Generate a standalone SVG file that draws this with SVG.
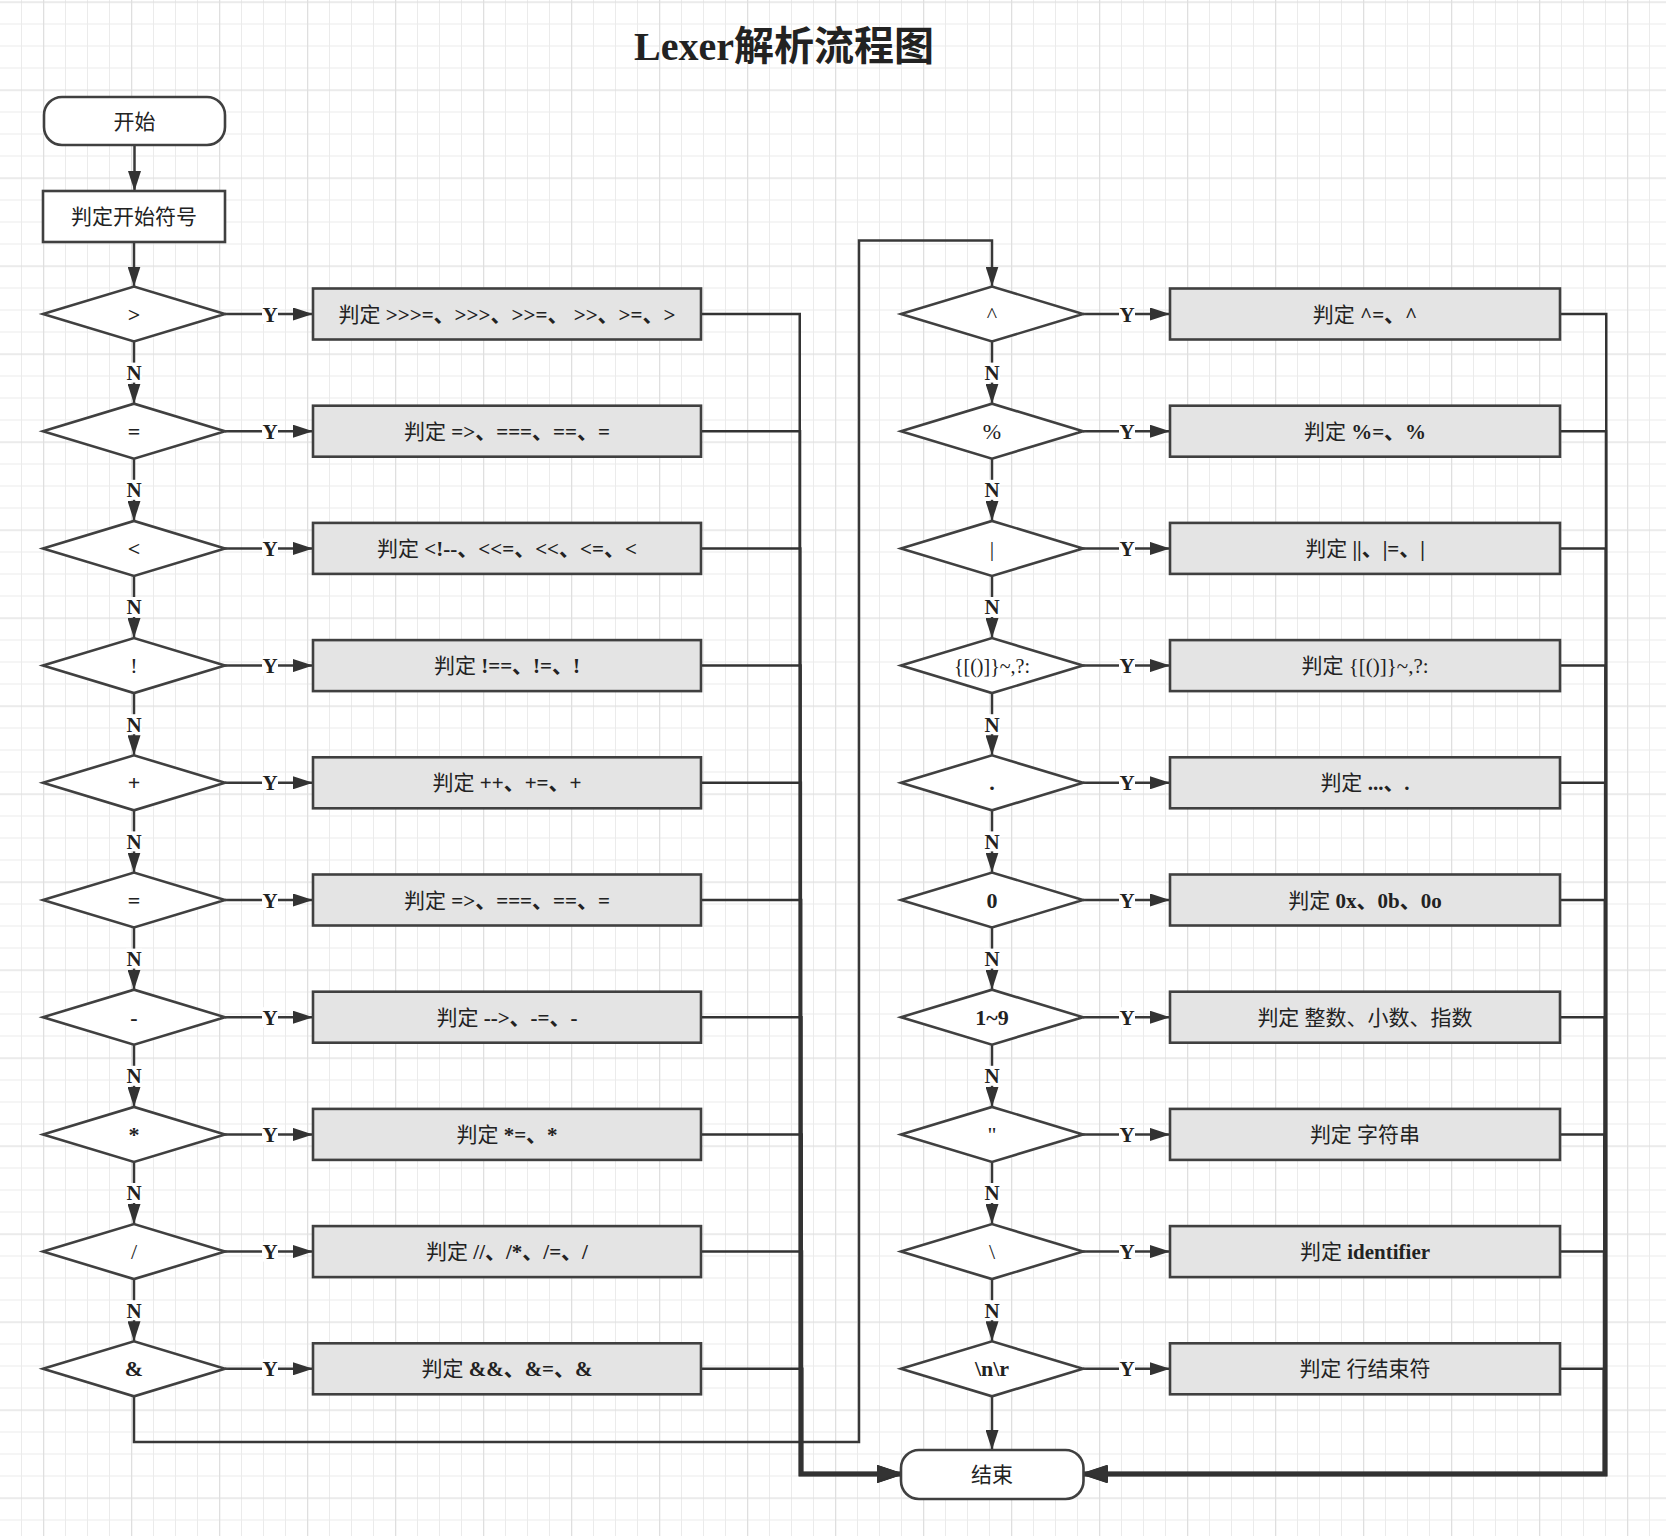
<svg xmlns="http://www.w3.org/2000/svg" width="1666" height="1536" viewBox="0 0 1666 1536">
<defs>
<pattern id="grid" x="43" y="1.5" width="88" height="88" patternUnits="userSpaceOnUse">
<path d="M22.5 0V88M44.5 0V88M66.5 0V88M0 22.5H88M0 44.5H88M0 66.5H88" stroke="#ebebeb" stroke-width="1" fill="none"/>
<path d="M0.5 0V88M0 0.5H88" stroke="#dfdfdf" stroke-width="1.6" fill="none"/>
</pattern>
<marker id="ah" viewBox="0 0 20 13" refX="20" refY="6.5" markerWidth="20" markerHeight="13" markerUnits="userSpaceOnUse" orient="auto"><path d="M0,0 L20,6.5 L0,13 z" fill="#333"/></marker>
<marker id="ahL" viewBox="0 0 24 16" refX="24" refY="8" markerWidth="24" markerHeight="16" markerUnits="userSpaceOnUse" orient="auto"><path d="M0,0 L24,8 L0,16 z" fill="#333"/></marker>
<style>
text{font-family:"Liberation Serif","Noto Sans CJK SC",serif;fill:#222}
.t{font-size:21px;text-anchor:middle}
.b{font-weight:bold}
.shape{stroke:#404040;stroke-width:2.6}
.proc{fill:#e4e4e4}
.white{fill:#fff}
.conn{fill:none;stroke:#383838;stroke-width:2.5;marker-end:url(#ah)}
.bus{fill:none;stroke:#333;stroke-width:2.5;marker-end:url(#ahL)}
.lb rect{fill:#fff}
.lb text{font-size:21px;font-weight:bold;text-anchor:middle}
.dl{font-size:22px;text-anchor:middle}
</style>
</defs>
<rect width="1666" height="1536" fill="#fff"/>
<rect width="1666" height="1536" fill="url(#grid)"/>

<text x="784" y="60" font-size="40" font-weight="bold" text-anchor="middle">Lexer解析流程图</text>

<g id="connectors">
<path class="conn" d="M134.5 145V191"/>
<path class="conn" d="M134 242V286.5"/>
<path class="conn" d="M225 314H313"/>
<path class="conn" d="M225 431.2H313"/>
<path class="conn" d="M225 548.4H313"/>
<path class="conn" d="M225 665.6H313"/>
<path class="conn" d="M225 782.8H313"/>
<path class="conn" d="M225 900H313"/>
<path class="conn" d="M225 1017.2H313"/>
<path class="conn" d="M225 1134.4H313"/>
<path class="conn" d="M225 1251.6H313"/>
<path class="conn" d="M225 1368.8H313"/>
<path class="conn" d="M1083 314H1170"/>
<path class="conn" d="M1083 431.2H1170"/>
<path class="conn" d="M1083 548.4H1170"/>
<path class="conn" d="M1083 665.6H1170"/>
<path class="conn" d="M1083 782.8H1170"/>
<path class="conn" d="M1083 900H1170"/>
<path class="conn" d="M1083 1017.2H1170"/>
<path class="conn" d="M1083 1134.4H1170"/>
<path class="conn" d="M1083 1251.6H1170"/>
<path class="conn" d="M1083 1368.8H1170"/>
<path class="conn" d="M134 341.5V403.7"/>
<path class="conn" d="M134 458.7V520.9"/>
<path class="conn" d="M134 575.9V638.1"/>
<path class="conn" d="M134 693.1V755.3"/>
<path class="conn" d="M134 810.3V872.5"/>
<path class="conn" d="M134 927.5V989.7"/>
<path class="conn" d="M134 1044.7V1106.9"/>
<path class="conn" d="M134 1161.9V1224.1"/>
<path class="conn" d="M134 1279.1V1341.3"/>
<path class="conn" d="M992 341.5V403.7"/>
<path class="conn" d="M992 458.7V520.9"/>
<path class="conn" d="M992 575.9V638.1"/>
<path class="conn" d="M992 693.1V755.3"/>
<path class="conn" d="M992 810.3V872.5"/>
<path class="conn" d="M992 927.5V989.7"/>
<path class="conn" d="M992 1044.7V1106.9"/>
<path class="conn" d="M992 1161.9V1224.1"/>
<path class="conn" d="M992 1279.1V1341.3"/>
<path class="conn" d="M134 1396.3V1442H859V240.5H992V286.5"/>
<path class="conn" d="M992 1396.3V1450"/>
<path class="bus" d="M701 314H799.74V1475.26H901"/>
<path class="bus" d="M701 431.2H800.02V1474.98H901"/>
<path class="bus" d="M701 548.4H800.3V1474.7H901"/>
<path class="bus" d="M701 665.6H800.58V1474.42H901"/>
<path class="bus" d="M701 782.8H800.86V1474.14H901"/>
<path class="bus" d="M701 900H801.14V1473.86H901"/>
<path class="bus" d="M701 1017.2H801.42V1473.58H901"/>
<path class="bus" d="M701 1134.4H801.7V1473.3H901"/>
<path class="bus" d="M701 1251.6H801.98V1473.02H901"/>
<path class="bus" d="M701 1368.8H802.26V1472.74H901"/>
<path class="bus" d="M1560 314H1606.26V1475.26H1083.5"/>
<path class="bus" d="M1560 431.2H1605.98V1474.98H1083.5"/>
<path class="bus" d="M1560 548.4H1605.7V1474.7H1083.5"/>
<path class="bus" d="M1560 665.6H1605.42V1474.42H1083.5"/>
<path class="bus" d="M1560 782.8H1605.14V1474.14H1083.5"/>
<path class="bus" d="M1560 900H1604.86V1473.86H1083.5"/>
<path class="bus" d="M1560 1017.2H1604.58V1473.58H1083.5"/>
<path class="bus" d="M1560 1134.4H1604.3V1473.3H1083.5"/>
<path class="bus" d="M1560 1251.6H1604.02V1473.02H1083.5"/>
<path class="bus" d="M1560 1368.8H1603.74V1472.74H1083.5"/>
<g class="lb">
<rect x="262" y="304" width="16" height="20"/><text x="270" y="321.5">Y</text>
<rect x="262" y="421.2" width="16" height="20"/><text x="270" y="438.7">Y</text>
<rect x="262" y="538.4" width="16" height="20"/><text x="270" y="555.9">Y</text>
<rect x="262" y="655.6" width="16" height="20"/><text x="270" y="673.1">Y</text>
<rect x="262" y="772.8" width="16" height="20"/><text x="270" y="790.3">Y</text>
<rect x="262" y="890" width="16" height="20"/><text x="270" y="907.5">Y</text>
<rect x="262" y="1007.2" width="16" height="20"/><text x="270" y="1024.7">Y</text>
<rect x="262" y="1124.4" width="16" height="20"/><text x="270" y="1141.9">Y</text>
<rect x="262" y="1241.6" width="16" height="20"/><text x="270" y="1259.1">Y</text>
<rect x="262" y="1358.8" width="16" height="20"/><text x="270" y="1376.3">Y</text>
<rect x="1119" y="304" width="16" height="20"/><text x="1127" y="321.5">Y</text>
<rect x="1119" y="421.2" width="16" height="20"/><text x="1127" y="438.7">Y</text>
<rect x="1119" y="538.4" width="16" height="20"/><text x="1127" y="555.9">Y</text>
<rect x="1119" y="655.6" width="16" height="20"/><text x="1127" y="673.1">Y</text>
<rect x="1119" y="772.8" width="16" height="20"/><text x="1127" y="790.3">Y</text>
<rect x="1119" y="890" width="16" height="20"/><text x="1127" y="907.5">Y</text>
<rect x="1119" y="1007.2" width="16" height="20"/><text x="1127" y="1024.7">Y</text>
<rect x="1119" y="1124.4" width="16" height="20"/><text x="1127" y="1141.9">Y</text>
<rect x="1119" y="1241.6" width="16" height="20"/><text x="1127" y="1259.1">Y</text>
<rect x="1119" y="1358.8" width="16" height="20"/><text x="1127" y="1376.3">Y</text>
</g>
<g class="lb">
<rect x="126" y="362.6" width="16" height="20"/><text x="134" y="380">N</text>
<rect x="126" y="479.8" width="16" height="20"/><text x="134" y="497.2">N</text>
<rect x="126" y="597" width="16" height="20"/><text x="134" y="614.4">N</text>
<rect x="126" y="714.2" width="16" height="20"/><text x="134" y="731.6">N</text>
<rect x="126" y="831.4" width="16" height="20"/><text x="134" y="848.8">N</text>
<rect x="126" y="948.6" width="16" height="20"/><text x="134" y="966">N</text>
<rect x="126" y="1065.8" width="16" height="20"/><text x="134" y="1083.2">N</text>
<rect x="126" y="1183" width="16" height="20"/><text x="134" y="1200.4">N</text>
<rect x="126" y="1300.2" width="16" height="20"/><text x="134" y="1317.6">N</text>
<rect x="984" y="362.6" width="16" height="20"/><text x="992" y="380">N</text>
<rect x="984" y="479.8" width="16" height="20"/><text x="992" y="497.2">N</text>
<rect x="984" y="597" width="16" height="20"/><text x="992" y="614.4">N</text>
<rect x="984" y="714.2" width="16" height="20"/><text x="992" y="731.6">N</text>
<rect x="984" y="831.4" width="16" height="20"/><text x="992" y="848.8">N</text>
<rect x="984" y="948.6" width="16" height="20"/><text x="992" y="966">N</text>
<rect x="984" y="1065.8" width="16" height="20"/><text x="992" y="1083.2">N</text>
<rect x="984" y="1183" width="16" height="20"/><text x="992" y="1200.4">N</text>
<rect x="984" y="1300.2" width="16" height="20"/><text x="992" y="1317.6">N</text>
</g>
</g>

<g id="start"><rect class="shape white" x="44" y="97" width="181" height="48" rx="18"/><text class="t" x="134.5" y="128.5">开始</text></g>
<g id="judge-start"><rect class="shape white" x="43" y="191" width="182" height="51"/><text class="t" x="134" y="224">判定开始符号</text></g>

<g id="d-gt"><polygon class="shape white" points="43,314 134,286.5 225,314 134,341.5"/><text class="dl b" x="134" y="321.5">&gt;</text></g>
<g id="p-gt"><rect class="shape proc" x="313" y="288.5" width="388" height="51"/><text class="t" x="507" y="321.5">判定 <tspan class="b">&gt;&gt;&gt;=、&gt;&gt;&gt;、&gt;&gt;=、 &gt;&gt;、&gt;=、&gt;</tspan></text></g>

<g id="d-eq1"><polygon class="shape white" points="43,431.2 134,403.7 225,431.2 134,458.7"/><text class="dl b" x="134" y="438.7">=</text></g>
<g id="p-eq1"><rect class="shape proc" x="313" y="405.7" width="388" height="51"/><text class="t" x="507" y="438.7">判定 <tspan class="b">=&gt;、===、==、=</tspan></text></g>

<g id="d-lt"><polygon class="shape white" points="43,548.4 134,520.9 225,548.4 134,575.9"/><text class="dl b" x="134" y="555.9">&lt;</text></g>
<g id="p-lt"><rect class="shape proc" x="313" y="522.9" width="388" height="51"/><text class="t" x="507" y="555.9">判定 <tspan class="b">&lt;!--、&lt;&lt;=、&lt;&lt;、&lt;=、&lt;</tspan></text></g>

<g id="d-not"><polygon class="shape white" points="43,665.6 134,638.1 225,665.6 134,693.1"/><text class="dl" x="134" y="673.1">!</text></g>
<g id="p-not"><rect class="shape proc" x="313" y="640.1" width="388" height="51"/><text class="t" x="507" y="673.1">判定 <tspan class="b">!==、!=、!</tspan></text></g>

<g id="d-plus"><polygon class="shape white" points="43,782.8 134,755.3 225,782.8 134,810.3"/><text class="dl b" x="134" y="790.3">+</text></g>
<g id="p-plus"><rect class="shape proc" x="313" y="757.3" width="388" height="51"/><text class="t" x="507" y="790.3">判定 <tspan class="b">++、+=、+</tspan></text></g>

<g id="d-eq2"><polygon class="shape white" points="43,900 134,872.5 225,900 134,927.5"/><text class="dl b" x="134" y="907.5">=</text></g>
<g id="p-eq2"><rect class="shape proc" x="313" y="874.5" width="388" height="51"/><text class="t" x="507" y="907.5">判定 <tspan class="b">=&gt;、===、==、=</tspan></text></g>

<g id="d-minus"><polygon class="shape white" points="43,1017.2 134,989.7 225,1017.2 134,1044.7"/><text class="dl b" x="134" y="1024.7">-</text></g>
<g id="p-minus"><rect class="shape proc" x="313" y="991.7" width="388" height="51"/><text class="t" x="507" y="1024.7">判定 <tspan class="b">--&gt;、-=、-</tspan></text></g>

<g id="d-star"><polygon class="shape white" points="43,1134.4 134,1106.9 225,1134.4 134,1161.9"/><text class="dl b" x="134" y="1141.9">*</text></g>
<g id="p-star"><rect class="shape proc" x="313" y="1108.9" width="388" height="51"/><text class="t" x="507" y="1141.9">判定 <tspan class="b">*=、*</tspan></text></g>

<g id="d-slash"><polygon class="shape white" points="43,1251.6 134,1224.1 225,1251.6 134,1279.1"/><text class="dl" x="134" y="1259.1">/</text></g>
<g id="p-slash"><rect class="shape proc" x="313" y="1226.1" width="388" height="51"/><text class="t" x="507" y="1259.1">判定 <tspan class="b">//、/*、/=、/</tspan></text></g>

<g id="d-amp"><polygon class="shape white" points="43,1368.8 134,1341.3 225,1368.8 134,1396.3"/><text class="dl b" x="134" y="1376.3">&amp;</text></g>
<g id="p-amp"><rect class="shape proc" x="313" y="1343.3" width="388" height="51"/><text class="t" x="507" y="1376.3">判定 <tspan class="b">&amp;&amp;、&amp;=、&amp;</tspan></text></g>

<g id="d-caret"><polygon class="shape white" points="901,314 992,286.5 1083,314 992,341.5"/><text class="dl" x="992" y="321.5">^</text></g>
<g id="p-caret"><rect class="shape proc" x="1170" y="288.5" width="390" height="51"/><text class="t" x="1365" y="321.5">判定 <tspan class="b">^=、^</tspan></text></g>

<g id="d-pct"><polygon class="shape white" points="901,431.2 992,403.7 1083,431.2 992,458.7"/><text class="dl" x="992" y="438.7">%</text></g>
<g id="p-pct"><rect class="shape proc" x="1170" y="405.7" width="390" height="51"/><text class="t" x="1365" y="438.7">判定 <tspan class="b">%=、%</tspan></text></g>

<g id="d-bar"><polygon class="shape white" points="901,548.4 992,520.9 1083,548.4 992,575.9"/><text class="dl" x="992" y="555.9">|</text></g>
<g id="p-bar"><rect class="shape proc" x="1170" y="522.9" width="390" height="51"/><text class="t" x="1365" y="555.9">判定 <tspan class="b">||、|=、|</tspan></text></g>

<g id="d-punct"><polygon class="shape white" points="901,665.6 992,638.1 1083,665.6 992,693.1"/><text class="dl" x="992" y="673.1" style="font-size:20px">{[()]}~,?:</text></g>
<g id="p-punct"><rect class="shape proc" x="1170" y="640.1" width="390" height="51"/><text class="t" x="1365" y="673.1">判定 {[()]}~,?:</text></g>

<g id="d-dot"><polygon class="shape white" points="901,782.8 992,755.3 1083,782.8 992,810.3"/><text class="dl b" x="992" y="790.3">.</text></g>
<g id="p-dot"><rect class="shape proc" x="1170" y="757.3" width="390" height="51"/><text class="t" x="1365" y="790.3">判定 <tspan class="b">...、.</tspan></text></g>

<g id="d-zero"><polygon class="shape white" points="901,900 992,872.5 1083,900 992,927.5"/><text class="dl b" x="992" y="907.5">0</text></g>
<g id="p-zero"><rect class="shape proc" x="1170" y="874.5" width="390" height="51"/><text class="t" x="1365" y="907.5">判定 <tspan class="b">0x、0b、0o</tspan></text></g>

<g id="d-digit"><polygon class="shape white" points="901,1017.2 992,989.7 1083,1017.2 992,1044.7"/><text class="dl b" x="992" y="1024.7">1~9</text></g>
<g id="p-digit"><rect class="shape proc" x="1170" y="991.7" width="390" height="51"/><text class="t" x="1365" y="1024.7">判定 整数、小数、指数</text></g>

<g id="d-quote"><polygon class="shape white" points="901,1134.4 992,1106.9 1083,1134.4 992,1161.9"/><text class="dl" x="992" y="1141.9">"</text></g>
<g id="p-quote"><rect class="shape proc" x="1170" y="1108.9" width="390" height="51"/><text class="t" x="1365" y="1141.9">判定 字符串</text></g>

<g id="d-bslash"><polygon class="shape white" points="901,1251.6 992,1224.1 1083,1251.6 992,1279.1"/><text class="dl" x="992" y="1259.1">\</text></g>
<g id="p-bslash"><rect class="shape proc" x="1170" y="1226.1" width="390" height="51"/><text class="t" x="1365" y="1259.1">判定 <tspan class="b">identifier</tspan></text></g>

<g id="d-nl"><polygon class="shape white" points="901,1368.8 992,1341.3 1083,1368.8 992,1396.3"/><text class="dl b" x="992" y="1376.3">\n\r</text></g>
<g id="p-nl"><rect class="shape proc" x="1170" y="1343.3" width="390" height="51"/><text class="t" x="1365" y="1376.3">判定 行结束符</text></g>

<g id="end"><rect class="shape white" x="901" y="1450" width="182.5" height="49" rx="18"/><text class="t" x="992" y="1482">结束</text></g>
</svg>
